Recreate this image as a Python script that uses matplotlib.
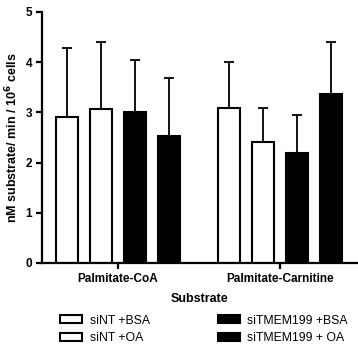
import numpy as np
import matplotlib
matplotlib.use("Agg")
import matplotlib.pyplot as plt
from matplotlib.patches import Patch

plt.rcParams['font.family'] = ['Liberation Sans', 'DejaVu Sans']

substrates = ['Palmitate-CoA', 'Palmitate-Carnitine']
series = ['siNT +BSA', 'siNT +OA', 'siTMEM199 +BSA', 'siTMEM199 + OA']
colors = ['white', 'white', 'black', 'black']
# mean values per series, one per substrate
means = [[2.91, 3.09],
         [3.07, 2.41],
         [3.00, 2.19],
         [2.53, 3.37]]
# upper error (SD)
errs = [[1.38, 0.92],
        [1.34, 0.68],
        [1.04, 0.76],
        [1.15, 1.04]]

fig = plt.figure(figsize=(3.58, 3.52), dpi=100)
ax = fig.add_axes([0.117, 0.253, 0.883, 0.713])

x = np.arange(len(substrates))
step = 0.21
width = 0.136
for i in range(len(series)):
    pos = x + (i - 1.5) * step
    ax.errorbar(pos, means[i], yerr=[np.zeros(len(substrates)), errs[i]],
                fmt='none', ecolor='black', elinewidth=1.3, capsize=3.5,
                capthick=1.3, zorder=1)
    ax.bar(pos, means[i], width=width, color=colors[i], edgecolor='black',
           linewidth=1.5, zorder=2)

ax.set_xlim(-0.469, 1.48)
ax.set_ylim(0, 5)
ax.set_yticks([0, 1, 2, 3, 4, 5])
ax.set_xticks(x)
ax.set_xticklabels(substrates, fontsize=8.5, fontweight='bold')
for lab in ax.get_yticklabels():
    lab.set_fontsize(8.5)
    lab.set_fontweight('bold')
ax.spines['top'].set_visible(False)
ax.spines['right'].set_visible(False)
ax.spines['left'].set_linewidth(1.6)
ax.spines['bottom'].set_linewidth(1.6)
ax.tick_params(width=1.6, length=4.5, pad=2.5)
ax.set_ylabel('nM substrate/ min / 10$^\\mathbf{6}$ cells', fontsize=9,
              fontweight='bold', labelpad=4)
ax.set_xlabel('Substrate', fontsize=9, fontweight='bold', labelpad=6)

handles = [Patch(facecolor=c, edgecolor='black', linewidth=1.5) for c in colors]
fig.legend(handles, series, ncol=2, loc='upper left',
           bbox_to_anchor=(0.155, 0.12), frameon=False, fontsize=8.8,
           handlelength=1.8, handleheight=0.6, columnspacing=5.6,
           labelspacing=0.45, borderaxespad=0, handletextpad=0.6)

fig.savefig('out.png', dpi=100)
